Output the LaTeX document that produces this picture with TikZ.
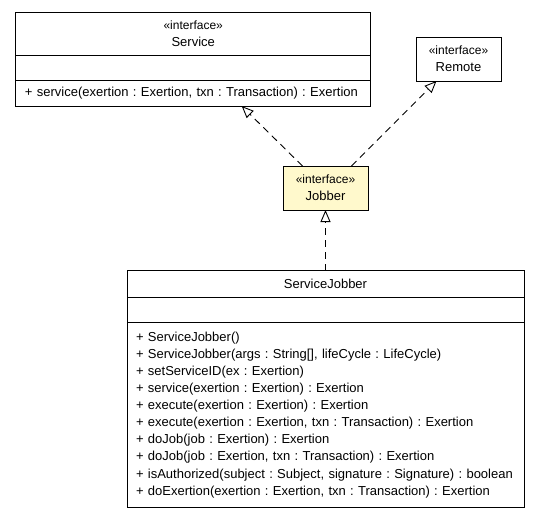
\documentclass[tikz,border=0pt]{standalone}
\usepackage{fontspec}
\setmainfont{Liberation Sans}
\usetikzlibrary{arrows.meta,positioning}
\definecolor{notefill}{RGB}{255,249,204}
\newcommand{\stereo}{{\fontsize{12}{14}\selectfont\guillemotleft interface\guillemotright}}
\frenchspacing

\begin{document}
\begin{tikzpicture}[x=1pt,y=-1pt,node distance=0pt,
                    >={Triangle[open,length=12pt,width=10pt]},
                    line width=1pt,
                    head/.style={draw,rectangle,inner sep=0pt,outer sep=0pt,minimum height=44pt,
                                 align=center,font=\fontsize{13}{17}\selectfont},
                    blank/.style={draw,rectangle,inner sep=0pt,outer sep=0pt,minimum height=25pt},
                    ops/.style={draw,rectangle,inner sep=0pt,outer sep=0pt,align=left,
                                font=\fontsize{13}{17.1}\selectfont},
                    realize/.style={->,dash pattern=on 7pt off 5pt,line width=0.9pt}]
  \useasboundingbox (0,0) rectangle (539,515);
  % Service
  \node[head,minimum width=355.5pt,minimum height=43.5pt] (service) at (193.2,34) {\stereo\\Service};
  \node[blank,minimum width=355.5pt,below=of service] (service2) {};
  \node[ops,minimum width=355.5pt,minimum height=25.3pt,text width=336.5pt,below=of service2] (service3)
    {+ service(exertion : Exertion, txn : Transaction) : Exertion};
  % Remote
  \node[head,minimum width=85pt] (remote) at (458.5,59) {\stereo\\Remote};
  % Jobber
  \node[head,fill=notefill,minimum width=85pt] (jobber) at (325.5,188) {\stereo\\Jobber};
  % ServiceJobber
  \node[head,minimum width=397pt,minimum height=26.6pt] (sj) at (325.5,284) {ServiceJobber};
  \node[blank,minimum width=397pt,below=of sj] (sj2) {};
  \node[ops,minimum width=397pt,minimum height=185pt,text width=379pt,below=of sj2] (sj3)
    {+ ServiceJobber()\\
     + ServiceJobber(args : String[], lifeCycle : LifeCycle)\\
     + setServiceID(ex : Exertion)\\
     + service(exertion : Exertion) : Exertion\\
     + execute(exertion : Exertion) : Exertion\\
     + execute(exertion : Exertion, txn : Transaction) : Exertion\\
     + doJob(job : Exertion) : Exertion\\
     + doJob(job : Exertion, txn : Transaction) : Exertion\\
     + isAuthorized(subject : Subject, signature : Signature) : boolean\\
     + doExertion(exertion : Exertion, txn : Transaction) : Exertion};
  \path[realize]
    ([xshift=-23pt]jobber.north) edge ([xshift=48.5pt]service3.south)
    ([xshift=26pt]jobber.north) edge ([xshift=-22pt]remote.south)
    (sj.north) edge (jobber.south);
\end{tikzpicture}
\end{document}
